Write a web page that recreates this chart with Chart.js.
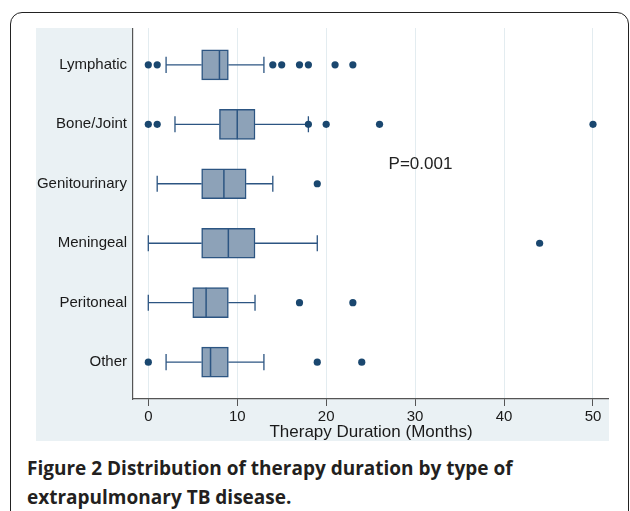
<!DOCTYPE html>
<html>
<head>
<meta charset="utf-8">
<script src="https://cdn.jsdelivr.net/npm/chart.js@4"></script>
<style>
  html, body { margin:0; padding:0; background:#fff; }
  body { width:630px; height:511px; position:relative; overflow:hidden; }
  #frame { position:absolute; left:10px; top:12px; width:619px; height:520px;
           border:1.5px solid #222; border-radius:12px; box-sizing:border-box; }
  #wrap { position:absolute; left:26px; top:28px; width:583px; height:413px; }
  #caption { position:absolute; left:27px; top:454px; width:590px;
             font-family:"Open Sans", sans-serif; font-weight:700; font-size:19px;
             line-height:29px; color:#231f20; }
</style>
</head>
<body>
<div id="frame"></div>
<div id="wrap"><canvas id="chart" width="583" height="413"></canvas></div>
<div id="caption">Figure 2 Distribution of therapy duration by type of extrapulmonary TB disease.</div>
<script>
// categories (top to bottom)
const categories = ["Lymphatic", "Bone/Joint", "Genitourinary", "Meningeal", "Peritoneal", "Other"];
// box plot stats, months
const whiskerLow  = [2, 3, 1, 0, 0, 2];
const q1          = [6, 8, 6, 6, 5, 6];
const median      = [8, 10, 8.5, 9, 6.5, 7];
const q3          = [9, 12, 11, 12, 9, 9];
const whiskerHigh = [13, 18, 14, 19, 12, 13];
const outliers = [
  [0, 1, 14, 15, 17, 18, 21, 23],
  [0, 1, 18, 20, 26, 50],
  [19],
  [44],
  [17, 23],
  [0, 19, 24]
];
const xTicks = [0, 10, 20, 30, 40, 50];
const pLabel = "P=0.001";

const navy = "#1a476f";
const boxLine = "#2c5582";
const boxFill = "#8da2b8";
const capHalf = 0.135, boxHalf = 0.25;
const GAP = {x: NaN, y: NaN}; // breaks the line
const FONT = "'Liberation Sans', Arial, sans-serif";

// build segment lists
const whiskerPts = [], capPts = [], medianPts = [], outlierPts = [];
categories.forEach((c, i) => {
  const y = i + 1;
  whiskerPts.push({x: whiskerLow[i], y}, {x: q1[i], y}, GAP, {x: q3[i], y}, {x: whiskerHigh[i], y}, GAP);
  capPts.push({x: whiskerLow[i], y: y - capHalf}, {x: whiskerLow[i], y: y + capHalf}, GAP,
              {x: whiskerHigh[i], y: y - capHalf}, {x: whiskerHigh[i], y: y + capHalf}, GAP);
  medianPts.push({x: median[i], y: y - boxHalf}, {x: median[i], y: y + boxHalf}, GAP);
  outliers[i].forEach(v => outlierPts.push({x: v, y}));
});

const bgPlugin = {
  id: "bg",
  beforeDraw(chart){
    const {ctx, chartArea:a} = chart;
    ctx.save();
    ctx.fillStyle = "#eaf1f4";
    ctx.fillRect(10, 0, chart.width - 10, chart.height);
    ctx.fillStyle = "#ffffff";
    ctx.fillRect(a.left, a.top, a.right - a.left, a.bottom - a.top);
    ctx.restore();
  },
  afterDraw(chart){
    const {ctx, scales} = chart;
    ctx.save();
    ctx.font = "17px " + FONT;
    ctx.fillStyle = "#222";
    ctx.textAlign = "center";
    ctx.textBaseline = "middle";
    ctx.fillText(pLabel, scales.x.getPixelForValue(30.6), scales.y.getPixelForValue(2.68));
    ctx.restore();
  }
};

const lineDs = (data, width) => ({
  type: "line", data, borderColor: boxLine, borderWidth: width,
  pointRadius: 0, spanGaps: false, fill: false, tension: 0, order: 1
});

new Chart(document.getElementById("chart"), {
  type: "bar",
  data: {
    datasets: [
      lineDs(whiskerPts, 1.3),
      lineDs(capPts, 1.3),
      {
        type: "bar",
        data: categories.map((c, i) => ({x: [q1[i], q3[i]], y: i + 1})),
        backgroundColor: boxFill, borderColor: boxLine, borderWidth: 1.5,
        borderSkipped: false, barThickness: 30, order: 2
      },
      lineDs(medianPts, 1.5),
      {
        type: "scatter", data: outlierPts, backgroundColor: navy, borderColor: navy,
        pointRadius: 3.6, pointBorderWidth: 0, order: 0
      }
    ]
  },
  options: {
    indexAxis: "y",
    responsive: false,
    animation: false,
    layout: { padding: 0, autoPadding: false },
    plugins: { legend: { display: false }, tooltip: { enabled: false } },
    scales: {
      x: {
        type: "linear", min: -1.72, max: 51.8, offset: false,
        afterBuildTicks: (s) => { s.ticks = xTicks.map(v => ({value: v})); },
        afterFit: (s) => { s.height = 42; s.paddingLeft = 0; s.paddingRight = 0; },
        grid: { color: "#e3ecf0", lineWidth: 1, tickColor: "#555", tickLength: 7 },
        border: { color: "#555", width: 1.2 },
        ticks: { color: "#1a1a1a", padding: 2, font: { family: FONT, size: 15 } },
        title: { display: true, text: "Therapy Duration (Months)", color: "#1a1a1a",
                 padding: { top: 0, bottom: 0 },
                 font: { family: FONT, size: 17, lineHeight: 1 } }
      },
      y: {
        type: "linear", reverse: true, min: 0.38, max: 6.62, offset: false,
        afterBuildTicks: (s) => { s.ticks = categories.map((c, i) => ({value: i + 1})); },
        afterFit: (s) => { s.width = 107; s.paddingTop = 0; s.paddingBottom = 0; },
        grid: { display: false, drawTicks: false, offset: false },
        border: { color: "#555", width: 1.2 },
        ticks: { color: "#1a1a1a", padding: 6,
                 callback: (v) => categories[v - 1],
                 font: { family: FONT, size: 15 } }
      }
    }
  },
  plugins: [bgPlugin]
});
</script>
</body>
</html>
